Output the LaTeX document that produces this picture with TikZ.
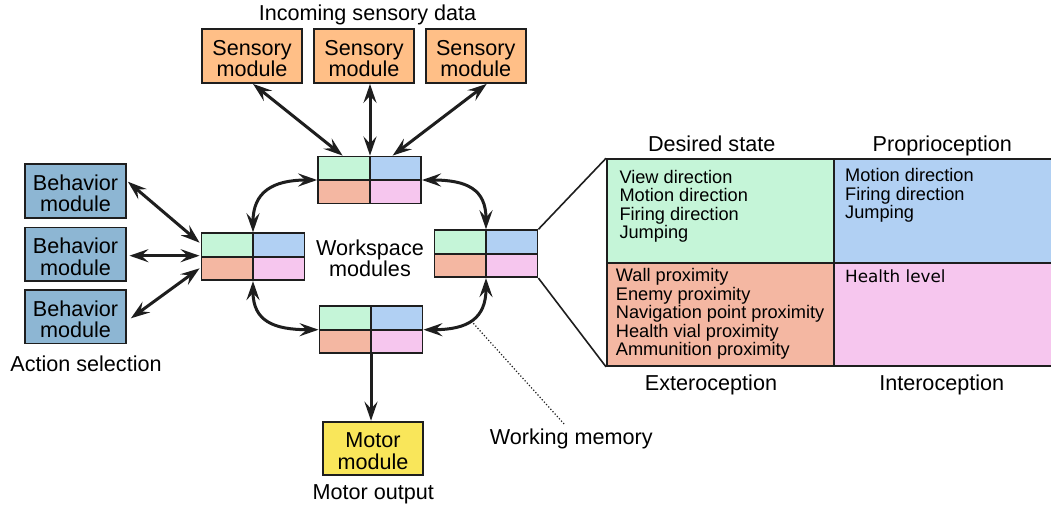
\documentclass[tikz,border=0pt]{standalone}
\usepackage{fontspec}
\setmainfont{Liberation Sans}
\newfontfamily\dejavu{DejaVu Sans}
\usetikzlibrary{arrows.meta,calc}

\definecolor{linec}{HTML}{1E1E1E}
\definecolor{sensfill}{HTML}{FFBF87}
\definecolor{behfill}{HTML}{8DB6D3}
\definecolor{motfill}{HTML}{F9E65A}
\definecolor{qgreen}{HTML}{C5F5D8}
\definecolor{qblue}{HTML}{B1D0F3}
\definecolor{qsalmon}{HTML}{F4B7A2}
\definecolor{qpink}{HTML}{F6C6EE}

% invisible height at the start of a two-line box label, lowering it a little
\newcommand\topstrut{\rule{0pt}{20.5pt}}

\tikzset{
  lbl/.style={inner sep=0pt, font=\fontsize{21.6}{21}\selectfont},
  module/.style={draw=linec, line width=1.8pt, minimum width=100pt,
    minimum height=54pt, inner sep=0pt, align=center,
    font=\fontsize{21.6}{21.2}\selectfont},
  sensory/.style={module, fill=sensfill},
  behavior/.style={module, fill=behfill, minimum width=101pt, minimum height=53.5pt},
  motor/.style={module, fill=motfill, minimum width=100.6pt, minimum height=53.3pt},
  wsmod/.style={draw=linec, line width=1.8pt, minimum width=103pt,
    minimum height=47pt, inner sep=0pt,
    path picture={
      \fill[qgreen] (path picture bounding box.north west) rectangle (path picture bounding box.center);
      \fill[qblue] (path picture bounding box.north east) rectangle (path picture bounding box.center);
      \fill[qsalmon] (path picture bounding box.south west) rectangle (path picture bounding box.center);
      \fill[qpink] (path picture bounding box.south east) rectangle (path picture bounding box.center);
      \draw[linec, line width=1.8pt] (path picture bounding box.north) -- (path picture bounding box.south);
      \draw[linec, line width=1.8pt] (path picture bounding box.west) -- (path picture bounding box.east);
    }},
  cell/.style={draw=linec, line width=1.8pt, inner sep=0pt, minimum width=226.7pt},
  celltext/.style={inner sep=0pt, align=left, anchor=north west,
    font=\fontsize{18.2}{18.5}\selectfont},
  link/.style={line width=3pt, linec},
  biarrow/.style={link, {Stealth[length=19pt,width=13pt,inset=7pt]}-{Stealth[length=19pt,width=13pt,inset=7pt]}},
  onearrow/.style={link, -{Stealth[length=19pt,width=13pt,inset=7pt]}},
  zoomline/.style={line width=1.6pt, linec},
  memline/.style={line width=1.2pt, linec, dotted},
}

\begin{document}
\begin{tikzpicture}[x=1pt, y=-1pt]
\useasboundingbox (0,0) rectangle (1051,508);
\clip (0,0) rectangle (1051,508);
\fill[white] (0,0) rectangle (1051,508);

% sensory input row
\node[lbl, anchor=base] (inlbl) at (367.5,21) {Incoming sensory data};
\node[sensory] (s1) at (252,56) {\topstrut Sensory\\module};
\node[sensory] (s2) at (364,56) {\topstrut Sensory\\module};
\node[sensory] (s3) at (475.7,56) {\topstrut Sensory\\module};

% workspace modules
\node[wsmod] (wsT) at (369.6,180) {};
\node[wsmod] (wsL) at (253,256.7) {};
\node[wsmod] (wsR) at (486,253.7) {};
\node[wsmod] (wsB) at (371,329.7) {};
\node[lbl, align=center] (wslbl) at (370,258.5) {Workspace\\modules};

% behaviour modules
\node[behavior] (b1) at (75.5,191) {\topstrut Behavior\\module};
\node[behavior] (b2) at (75.5,254.3) {\topstrut Behavior\\module};
\node[behavior] (b3) at (75.5,316.7) {\topstrut Behavior\\module};
\node[lbl, anchor=base] (actlbl) at (86,371.7) {Action selection};

% motor output
\node[motor] (mot) at (373,448.3) {\topstrut Motor\\module};
\node[lbl, anchor=base] (motlbl) at (373.3,499.3) {Motor output};

% working memory label
\node[lbl, anchor=base] (wmlbl) at (571.3,444) {Working memory};

% sensory links
\draw[biarrow] ($(s1.south)+(1,0)$) -- ($(wsT.north)+(-27,0)$);
\draw[biarrow] ($(s2.south)+(6,0)$) -- ($(wsT.north)+(0.4,0)$);
\draw[biarrow] ($(s3.south)+(11,0)$) -- ($(wsT.north)+(23,0)$);

% behaviour links
\draw[biarrow] ($(b1.east)+(1,-9.3)$) -- ($(wsL.west)+(-1,-14)$);
\draw[biarrow] ($(b2.east)+(2.5,1.4)$) -- ($(wsL.west)+(-1,-1)$);
\draw[biarrow] ($(b3.east)+(4,1.6)$) -- ($(wsL.west)+(-1,11.6)$);

% ring of workspace modules
\draw[biarrow] (wsL.north) .. controls ($(wsL.north)+(0,-40)$) and ($(wsT.west)+(-45,0)$) .. (wsT.west);
\draw[biarrow] (wsT.east) .. controls ($(wsT.east)+(45,0)$) and ($(wsR.north)+(0,-40)$) .. (wsR.north);
\draw[biarrow] (wsL.south) .. controls ($(wsL.south)+(0,40)$) and ($(wsB.west)+(-45,0)$) .. (wsB.west);
\draw[biarrow] (wsR.south) .. controls ($(wsR.south)+(0,40)$) and ($(wsB.east)+(45,0)$) .. (wsB.east);

% motor link
\draw[onearrow] (wsB.south) -- (wsB.south |- mot.north);

% working memory pointer
\coordinate (wmA) at (473.3,323.3);
\coordinate (wmB) at (565,425);
\draw[memline] (wmA) -- (wmB);

% expanded view of one workspace module
\node[cell, fill=qgreen, minimum height=104pt, anchor=north west] (cDS) at (606,158.3) {};
\node[cell, fill=qblue, minimum height=104pt, anchor=north west] (cPR) at (832.7,158.3) {};
\node[cell, fill=qsalmon, minimum height=102.7pt, anchor=north west] (cEX) at (606,262.3) {};
\node[cell, fill=qpink, minimum height=102.7pt, anchor=north west] (cIN) at (832.7,262.3) {};

\draw[zoomline] (wsR.north east) -- (cDS.north west);
\draw[zoomline] (wsR.south east) -- (cEX.south west);

\node[lbl, anchor=base] (hDS) at (711.7,151.7) {Desired state};
\node[lbl, anchor=base] (hPR) at (942.3,151.2) {Proprioception};
\node[lbl, anchor=base] (hEX) at (711,390) {Exteroception};
\node[lbl, anchor=base] (hIN) at (941.7,390) {Interoception};

\node[celltext] (tDS) at (619.3,170) {View direction\\Motion direction\\Firing direction\\Jumping};
\node[celltext] (tPR) at (845,168.5) {Motion direction\\Firing direction\\Jumping};
\node[celltext] (tEX) at (615.7,268.3) {Wall proximity\\Enemy proximity\\Navigation point proximity\\Health vial proximity\\Ammunition proximity};
\node[celltext, font=\dejavu\fontsize{16.8}{18.5}\selectfont] (tIN) at (845,270) {Health level};
\end{tikzpicture}
\end{document}
